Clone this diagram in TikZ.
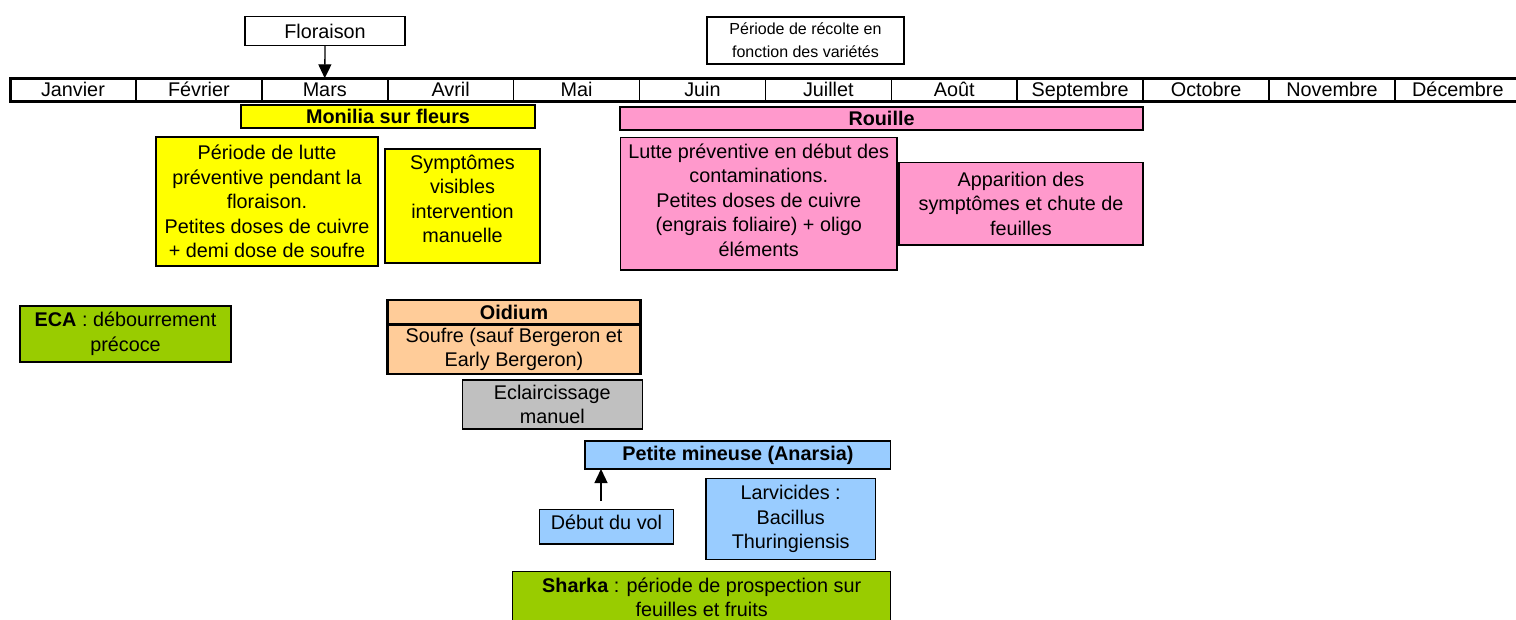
\documentclass[tikz,border=0pt]{standalone}
\usepackage{fontspec}
\setmainfont{Liberation Sans}
\usetikzlibrary{arrows.meta,calc}
\definecolor{cyel}{RGB}{255,255,0}
\definecolor{cpink}{RGB}{255,153,204}
\definecolor{cpeach}{RGB}{255,204,153}
\definecolor{cgreen}{RGB}{153,204,0}
\definecolor{cgray}{RGB}{192,192,192}
\definecolor{cblue}{RGB}{153,204,255}
\begin{document}
\begin{tikzpicture}[x=1pt,y=-1pt,
  every node/.style={font=\fontsize{19.8}{24.5}\selectfont, inner sep=0pt, outer sep=0pt},
  box/.style={draw=black, line width=1.2pt, align=center, rectangle},
  monthcell/.style={draw=black, line width=1.6pt, minimum width=125.9pt, minimum height=23.4pt, text height=15pt, text depth=3pt},
  arr/.style={-{Triangle[length=14pt,width=13pt]}, line width=1.3pt},
  txt/.style={align=center}]
\useasboundingbox (0,0) rectangle (1516,619);

% month bar
\foreach \i/\m in {1/Janvier,2/Février,3/Mars,4/Avril,5/Mai,6/Juin,7/Juillet,8/Août,9/Septembre,10/Octobre,11/Novembre,12/Décembre}
  \node[monthcell] (m\i) at ({10+125.9*(\i-0.5)},90) {\m};
\draw[line width=3pt] (m1.north west) rectangle (m12.south east);

% top boxes
\node[box, fill=white, minimum width=160pt, minimum height=29pt] (flor) at (325,31.2) {Floraison};
\node[box, fill=white, minimum width=197pt, minimum height=47pt, font=\fontsize{16}{23}\selectfont] (recolte) at (805.5,40.5) {Période de récolte en\\fonction des variétés};
\draw[arr] (flor.south) -- (m3.north);

% Monilia
\node[box, fill=cyel, minimum width=294pt, minimum height=23pt] (mon) at (388,116.5) {\textbf{Monilia sur fleurs}};
\node[box, fill=cyel, minimum width=222pt, minimum height=129pt] (perlutte) at (267,201.5) {Période de lutte\\préventive pendant la\\floraison.\\Petites doses de cuivre\\+ demi dose de soufre};
\node[box, fill=cyel, minimum width=155pt, minimum height=114pt,
  label={[txt, yshift=7pt]center:Symptômes\\visibles\\intervention\\manuelle}] (sympt) at (462.5,206) {};

% Rouille
\node[box, fill=cpink, minimum width=523pt, minimum height=23pt] (rou) at (881.5,118.5) {\textbf{Rouille}};
\node[box, fill=cpink, minimum width=276.6pt, minimum height=132.3pt,
  label={[txt, yshift=4pt]center:Lutte préventive en début des\\contaminations.\\Petites doses de cuivre\\(engrais foliaire) + oligo\\éléments}] (lutte) at (758.7,203.9) {};
\node[box, fill=cpink, minimum width=244pt, minimum height=82.7pt] (appar) at (1021,203.7) {Apparition des\\symptômes et chute de\\feuilles};

% ECA
\node[box, fill=cgreen, minimum width=211pt, minimum height=56pt] (eca) at (125.5,334) {\textbf{ECA} : débourrement\\précoce};

% Oidium
\node[box, fill=cpeach, line width=2.5pt, minimum width=253.4pt, minimum height=24.3pt] (oidt) at (514,312.2) {\textbf{Oidium}};
\node[box, fill=cpeach, line width=2.5pt, minimum width=253.4pt, minimum height=49.7pt] (oidb) at (514,349.2) {Soufre (sauf Bergeron et\\Early Bergeron)};

% Eclaircissage
\node[box, fill=cgray, minimum width=180pt, minimum height=49pt] (ecl) at (552.3,404.5) {Eclaircissage\\manuel};

% Petite mineuse
\node[box, fill=cblue, minimum width=305.7pt, minimum height=28pt] (pm) at (737.9,455) {\textbf{Petite mineuse (Anarsia)}};
\node[box, fill=cblue, minimum width=134.4pt, minimum height=34.7pt,
  label={[txt, yshift=4pt]center:Début du vol}] (debut) at (606.5,526.7) {};
\node[box, fill=cblue, minimum width=169.3pt, minimum height=80.6pt] (larv) at (790.7,519) {Larvicides :\\Bacillus\\Thuringiensis};
\coordinate (vs) at (601,501);
\draw[arr] (vs) -- (vs |- pm.south);

% Sharka
\node[box, fill=cgreen, minimum width=378pt, minimum height=51.6pt] (sharka) at (701.7,597.5) {\textbf{Sharka} : période de prospection sur\\feuilles et fruits};
\end{tikzpicture}
\end{document}
